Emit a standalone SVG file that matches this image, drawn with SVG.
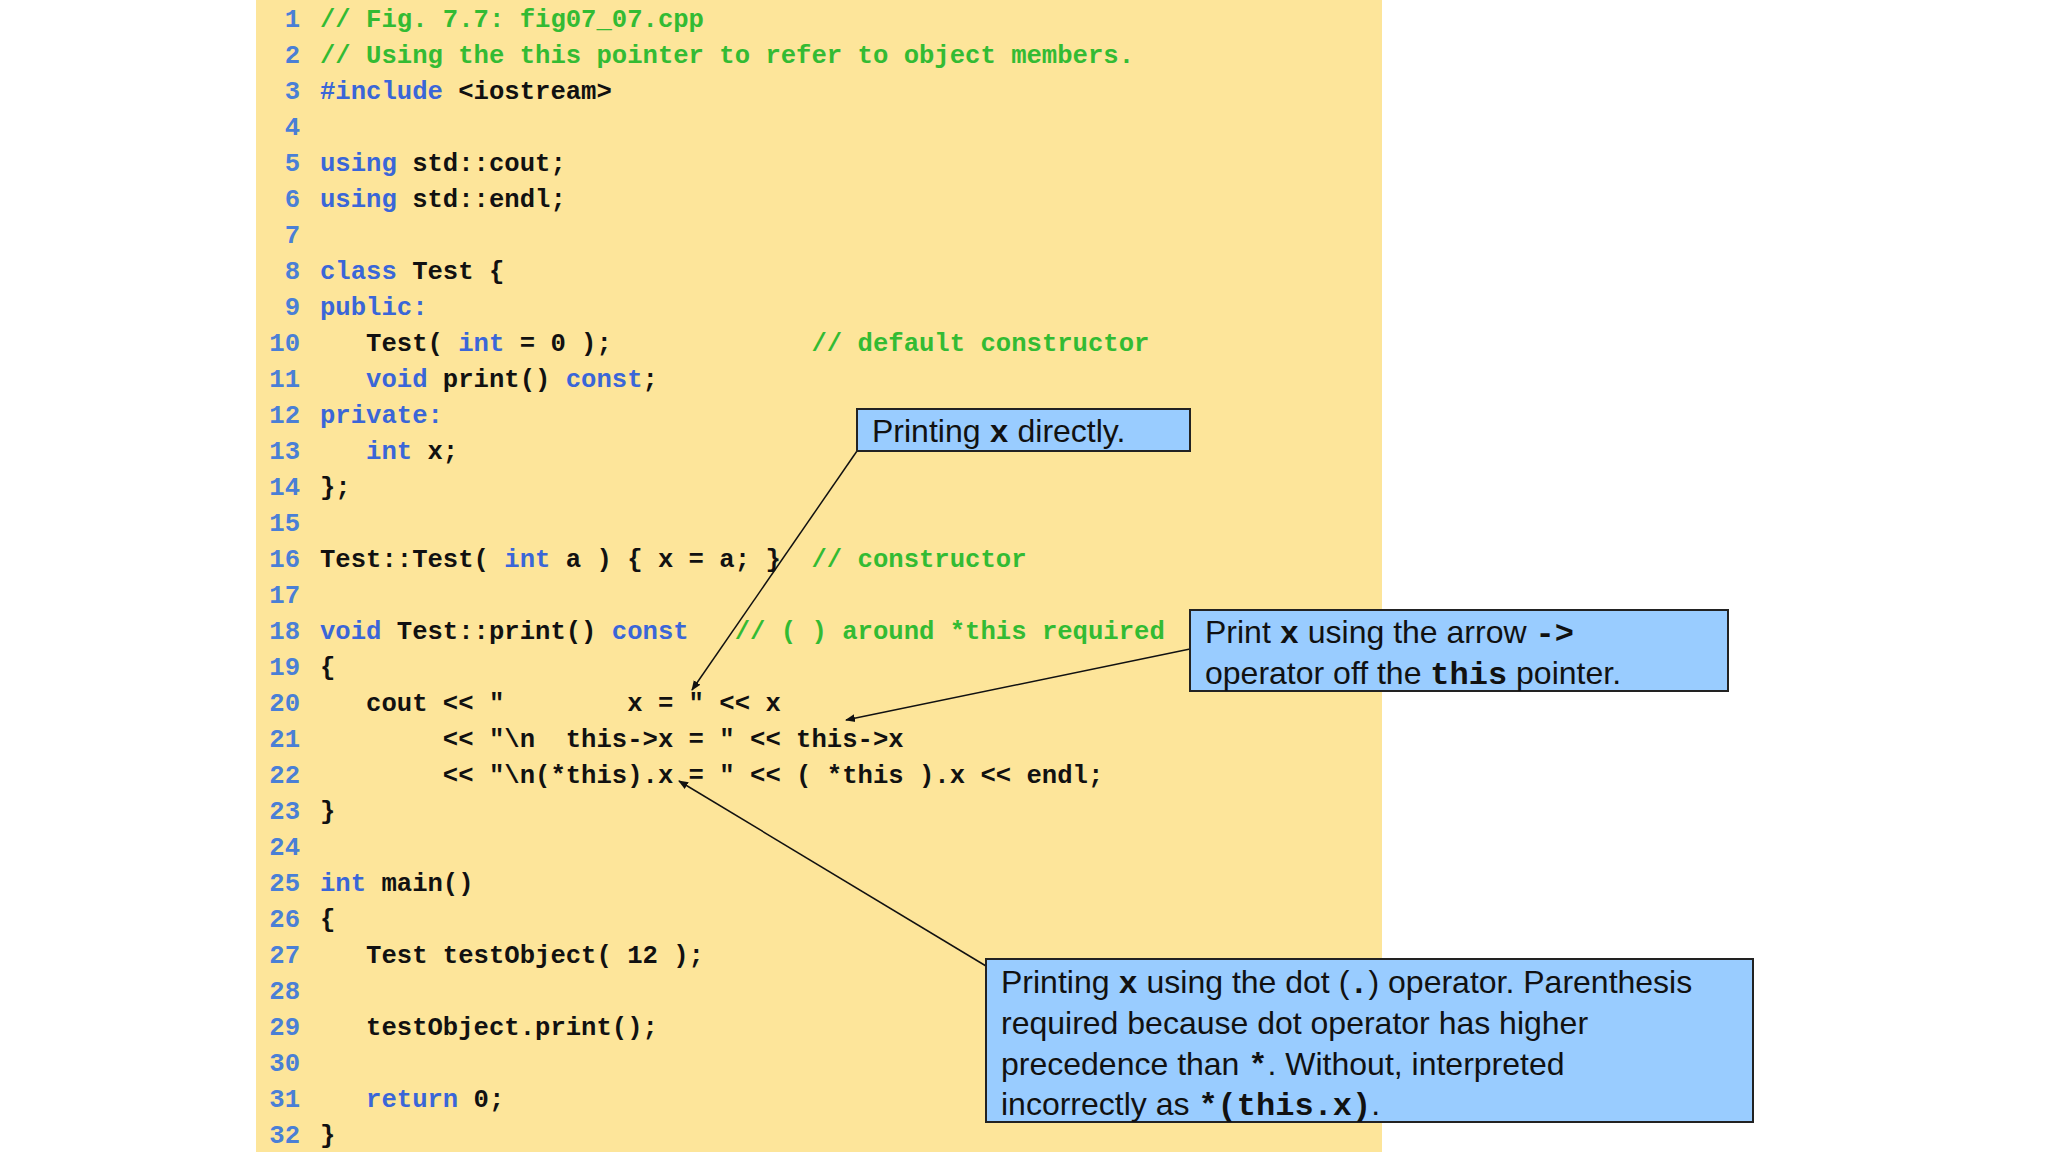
<svg xmlns="http://www.w3.org/2000/svg" width="2048" height="1152" viewBox="0 0 2048 1152">
<defs>
<style>
.c{font-family:"Liberation Mono",monospace;font-weight:bold;font-size:25.6px;fill:#111;white-space:pre}
.n{font-family:"Liberation Mono",monospace;font-weight:bold;font-size:25.6px;fill:#4a7fd6;text-anchor:end}
.k{fill:#3a66d8}.g{fill:#33bb33}
.box{fill:#99ccff;stroke:#222;stroke-width:2}
.t{font-family:"Liberation Sans",Arial,sans-serif;font-size:32px;fill:#111;white-space:pre}
.m{font-family:"Liberation Mono",monospace;font-weight:bold}
.ar{stroke:#111;stroke-width:1.5;fill:none;marker-end:url(#ah)}
</style>
<marker id="ah" viewBox="0 0 10 10" refX="9" refY="5" markerWidth="10" markerHeight="10" markerUnits="userSpaceOnUse" orient="auto"><path d="M0,1 L10,5 L0,9 z" fill="#111"/></marker>
</defs>
<rect width="2048" height="1152" fill="#fff"/>
<rect x="256" y="0" width="1126" height="1152" fill="#fde59a"/>
<g id="linenums">
<text class="n" x="300" y="27">1</text><text class="n" x="300" y="63">2</text><text class="n" x="300" y="99">3</text><text class="n" x="300" y="135">4</text><text class="n" x="300" y="171">5</text><text class="n" x="300" y="207">6</text><text class="n" x="300" y="243">7</text><text class="n" x="300" y="279">8</text><text class="n" x="300" y="315">9</text><text class="n" x="300" y="351">10</text><text class="n" x="300" y="387">11</text><text class="n" x="300" y="423">12</text><text class="n" x="300" y="459">13</text><text class="n" x="300" y="495">14</text><text class="n" x="300" y="531">15</text><text class="n" x="300" y="567">16</text><text class="n" x="300" y="603">17</text><text class="n" x="300" y="639">18</text><text class="n" x="300" y="675">19</text><text class="n" x="300" y="711">20</text><text class="n" x="300" y="747">21</text><text class="n" x="300" y="783">22</text><text class="n" x="300" y="819">23</text><text class="n" x="300" y="855">24</text><text class="n" x="300" y="891">25</text><text class="n" x="300" y="927">26</text><text class="n" x="300" y="963">27</text><text class="n" x="300" y="999">28</text><text class="n" x="300" y="1035">29</text><text class="n" x="300" y="1071">30</text><text class="n" x="300" y="1107">31</text><text class="n" x="300" y="1143">32</text>
</g>
<g id="code">
<text class="c" x="320" y="27"><tspan class="g">// Fig. 7.7: fig07_07.cpp</tspan></text>
<text class="c" x="320" y="63"><tspan class="g">// Using the this pointer to refer to object members.</tspan></text>
<text class="c" x="320" y="99"><tspan class="k">#include</tspan> &lt;iostream&gt;</text>
<text class="c" x="320" y="171"><tspan class="k">using</tspan> std::cout;</text>
<text class="c" x="320" y="207"><tspan class="k">using</tspan> std::endl;</text>
<text class="c" x="320" y="279"><tspan class="k">class</tspan> Test {</text>
<text class="c" x="320" y="315"><tspan class="k">public:</tspan></text>
<text class="c" x="320" y="351">   Test( <tspan class="k">int</tspan> = 0 );             <tspan class="g">// default constructor</tspan></text>
<text class="c" x="320" y="387">   <tspan class="k">void</tspan> print() <tspan class="k">const</tspan>;</text>
<text class="c" x="320" y="423"><tspan class="k">private:</tspan></text>
<text class="c" x="320" y="459">   <tspan class="k">int</tspan> x;</text>
<text class="c" x="320" y="495">};</text>
<text class="c" x="320" y="567">Test::Test( <tspan class="k">int</tspan> a ) { x = a; }  <tspan class="g">// constructor</tspan></text>
<text class="c" x="320" y="639"><tspan class="k">void</tspan> Test::print() <tspan class="k">const</tspan>   <tspan class="g">// ( ) around *this required</tspan></text>
<text class="c" x="320" y="675">{</text>
<text class="c" x="320" y="711">   cout &lt;&lt; "        x = " &lt;&lt; x</text>
<text class="c" x="320" y="747">        &lt;&lt; "\n  this-&gt;x = " &lt;&lt; this-&gt;x</text>
<text class="c" x="320" y="783">        &lt;&lt; "\n(*this).x = " &lt;&lt; ( *this ).x &lt;&lt; endl;</text>
<text class="c" x="320" y="819">}</text>
<text class="c" x="320" y="891"><tspan class="k">int</tspan> main()</text>
<text class="c" x="320" y="927">{</text>
<text class="c" x="320" y="963">   Test testObject( 12 );</text>
<text class="c" x="320" y="1035">   testObject.print();</text>
<text class="c" x="320" y="1107">   <tspan class="k">return</tspan> 0;</text>
<text class="c" x="320" y="1143">}</text>
</g>
<g id="connectors">
<line class="ar" x1="857" y1="451" x2="692" y2="690"/>
<line class="ar" x1="1190" y1="649" x2="846" y2="720"/>
<line class="ar" x1="986" y1="966" x2="679" y2="781"/>
</g>
<g id="callout1">
<rect class="box" x="857" y="409" width="333" height="42"/>
<text class="t" x="872" y="442">Printing <tspan class="m">x</tspan> directly.</text>
</g>
<g id="callout2">
<rect class="box" x="1190" y="610" width="538" height="81"/>
<text class="t" x="1205" y="643">Print <tspan class="m">x</tspan> using the arrow <tspan class="m">-&gt;</tspan></text>
<text class="t" x="1205" y="684">operator off the <tspan class="m">this</tspan> pointer.</text>
</g>
<g id="callout3">
<rect class="box" x="986" y="959" width="767" height="163"/>
<text class="t" x="1001" y="993">Printing <tspan class="m">x</tspan> using the dot (<tspan class="m">.</tspan>) operator. Parenthesis</text>
<text class="t" x="1001" y="1034">required because dot operator has higher</text>
<text class="t" x="1001" y="1075">precedence than <tspan class="m">*</tspan>. Without, interpreted</text>
<text class="t" x="1001" y="1115">incorrectly as <tspan class="m">*(this.x)</tspan>.</text>
</g>
</svg>
